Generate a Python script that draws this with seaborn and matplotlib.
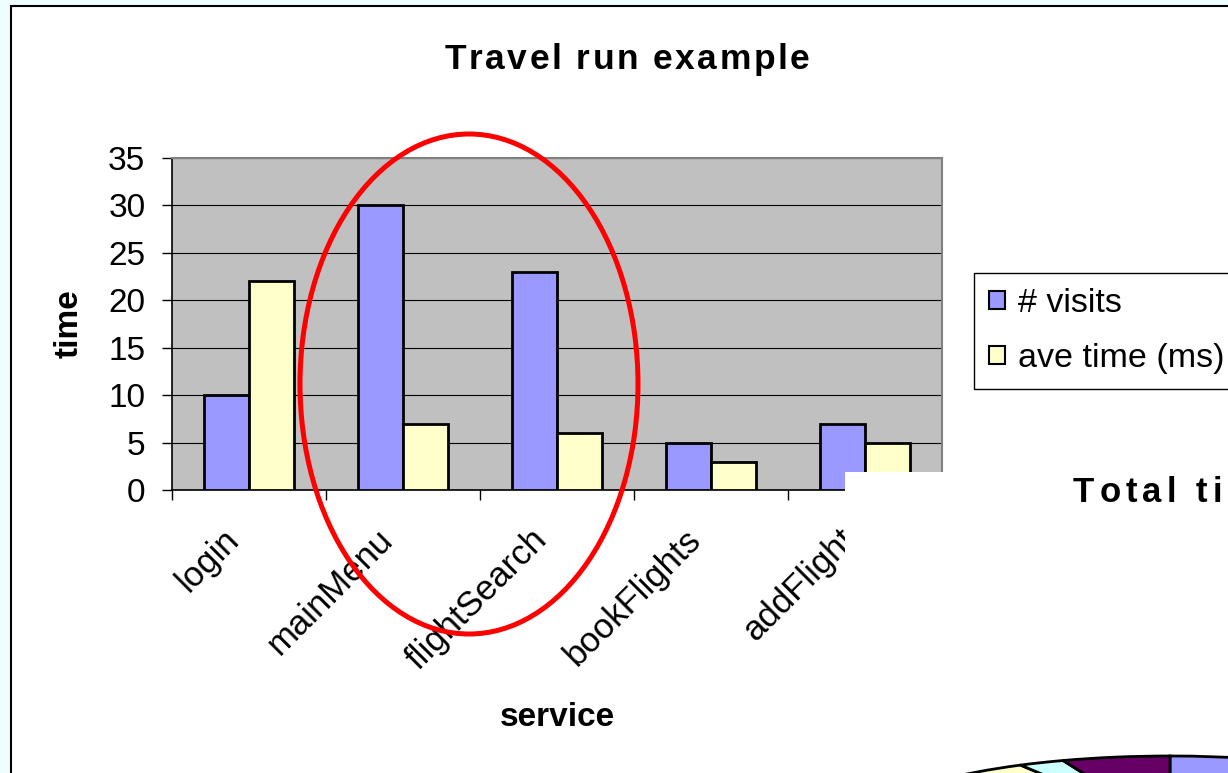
import numpy as np
import pandas as pd
import matplotlib
matplotlib.use("Agg")
import matplotlib.pyplot as plt
import seaborn as sns
from matplotlib.patches import Ellipse, Rectangle, Patch
from matplotlib.transforms import ScaledTranslation
from matplotlib.font_manager import FontProperties, findfont
from matplotlib.ft2font import FT2Font

# ---------------- data ----------------
services = ["login", "mainMenu", "flightSearch", "bookFlights", "addFlight"]
visits = [10, 30, 23, 5, 7]
ave_time = [22, 7, 6, 3, 5]
series_names = ["# visits", "ave time (ms)"]
series_colors = ["#9999FF", "#FFFFCC"]
y_ticks = [0, 5, 10, 15, 20, 25, 30, 35]
title = "Travel run example"
# second (overlapping) chart: pie of total time per service
pie_title = "Total time"
total_time = [220, 210, 138, 15, 35]
pie_colors = ["#9999FF", "#993366", "#FFFFCC", "#CCFFFF", "#660066"]

W, H = 1228, 773
DPI = 100
plt.rcParams["font.family"] = ["Liberation Sans", "DejaVu Sans"]

fig = plt.figure(figsize=(W / DPI, H / DPI), dpi=DPI, facecolor="#EEFEFE")


def fx(px):
    return px / W


def fy(py):
    return 1 - py / H


# chart sheet (white with black border)
fig.add_artist(Rectangle((fx(11), -0.2), 1.2, fy(6) + 0.2, transform=fig.transFigure,
                         facecolor="white", edgecolor="black", lw=1.5, zorder=-10))

# ---------------- bar chart ----------------
ax = fig.add_axes([fx(172), fy(490), 770 / W, 332 / H])
ax.set_facecolor("#C0C0C0")

df = pd.DataFrame({
    "service": services * 2,
    "value": visits + ave_time,
    "series": [series_names[0]] * len(services) + [series_names[1]] * len(services),
})
sns.barplot(data=df, x="service", y="value", hue="series", palette=series_colors,
            width=0.58, saturation=1, edgecolor="black", linewidth=2,
            ax=ax, legend=False, zorder=3)

ax.set_ylim(0, 35)
ax.set_xlim(-0.5, len(services) - 0.5)
ax.set_yticks(y_ticks)
ax.set_axisbelow(True)
ax.yaxis.grid(True, color="black", lw=0.8)
ax.xaxis.grid(False)

ax.set_xticks(range(len(services)))
ax.set_xticklabels(services, rotation=45, ha="right", va="center",
                   rotation_mode="anchor", fontsize=25)
ax.set_xticks(np.arange(-0.5, len(services), 1), minor=True)
ax.tick_params(axis="x", which="major", length=0, pad=32)
ax.tick_params(axis="x", which="minor", length=7.2, width=1, color="black")
ax.tick_params(axis="y", length=7.2, width=1, pad=12, labelsize=24)
for lab in ax.get_xticklabels():
    lab.set_transform(lab.get_transform() + ScaledTranslation(-0.15, 0, fig.dpi_scale_trans))

for s in ["top", "right"]:
    ax.spines[s].set_color("#808080")
    ax.spines[s].set_linewidth(1.5)
for s in ["left", "bottom"]:
    ax.spines[s].set_color("black")
    ax.spines[s].set_linewidth(1.2)

ax.set_xlabel("service", fontsize=24, fontweight="bold")
ax.xaxis.set_label_coords(0.5, -0.64)
ax.set_ylabel("time", fontsize=24, fontweight="bold")
ax.yaxis.set_label_coords(-0.113, 0.5)

# legend
handles = [Patch(facecolor=c, edgecolor="black", lw=1.5, label=n)
           for c, n in zip(series_colors, series_names)]
leg = fig.legend(handles=handles, loc="upper left", bbox_to_anchor=(fx(974), fy(273)),
                 fontsize=24.5, frameon=True, fancybox=False, edgecolor="black",
                 framealpha=1, handlelength=0.45, handleheight=0.45,
                 handletextpad=0.4, labelspacing=0.7, borderpad=0.45,
                 borderaxespad=0)
leg.get_frame().set_linewidth(1)
leg.set_zorder(4)


# letter-spaced text helper (Excel-like rendering)
def spaced_text(s, x_px, y_px, size_pt, spacing_px, ha="left", zorder=9):
    fp = FontProperties(family="Liberation Sans", weight="bold", size=size_pt)
    font = FT2Font(findfont(fp))
    font.set_size(size_pt, DPI)
    advs = [font.load_char(ord(c)).linearHoriAdvance / 65536 for c in s]
    total = sum(advs) + spacing_px * (len(s) - 1)
    x = x_px - total / 2 if ha == "center" else x_px
    for c, a in zip(s, advs):
        if c != " " and x < W:
            fig.text(fx(x), fy(y_px), c, ha="left", va="baseline",
                     fontproperties=fp, color="black", zorder=zorder)
        x += a + spacing_px


spaced_text(title, 627, 69, 25.5, 2.5, ha="center")

# red highlight ellipse
fig.add_artist(Ellipse((fx(469), fy(384)), 338 / W, 500 / H, transform=fig.transFigure,
                       fill=False, edgecolor="#FF0000", lw=3.6, zorder=5))

# overlapping second chart (white area) covering part of the first
fig.add_artist(Rectangle((fx(845), -0.2), 1.2, fy(472) + 0.2, transform=fig.transFigure,
                         facecolor="white", edgecolor="none", zorder=6))
spaced_text(pie_title, 1073, 502, 25, 5, ha="left", zorder=8)

pax = fig.add_axes([fx(863), fy(900), 614 / W, 144 / H], zorder=7)
pax.pie(total_time, colors=pie_colors, startangle=90, counterclock=False,
        wedgeprops=dict(edgecolor="black", linewidth=2))
pax.set_aspect("auto")
pax.set_xlim(-1.0, 1.0)
pax.set_ylim(-1.0, 1.0)
pax.axis("off")

fig.savefig("out.png", dpi=DPI, facecolor=fig.get_facecolor())
